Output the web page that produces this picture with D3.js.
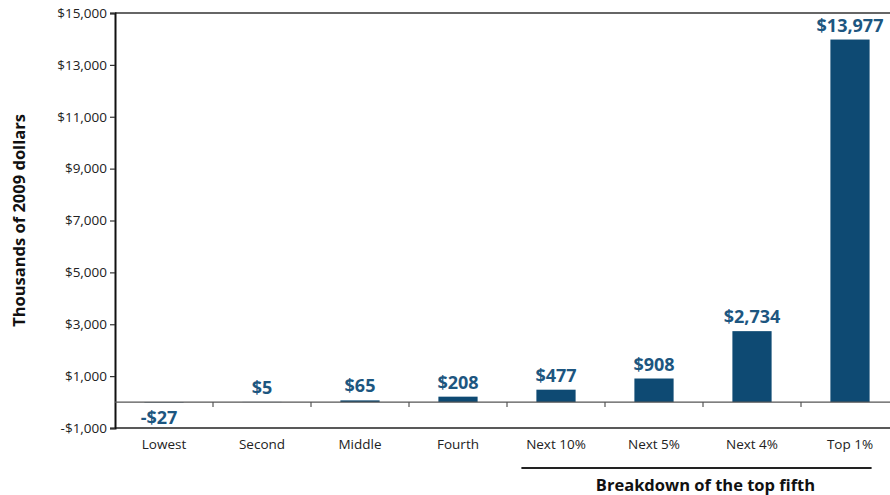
<!DOCTYPE html>
<html>
<head>
<meta charset="utf-8">
<script src="https://cdn.jsdelivr.net/npm/d3@7"></script>
<style>
  html, body { margin: 0; padding: 0; background: #fff; }
  svg { display: block; font-family: "Open Sans", "Noto Sans", sans-serif; }
</style>
</head>
<body>
<svg id="chart" width="890" height="495"></svg>
<script>
// Average after-tax income change by income group (thousands of 2009 dollars)
const categories = ["Lowest", "Second", "Middle", "Fourth", "Next 10%", "Next 5%", "Next 4%", "Top 1%"];
const values = [-27, 5, 65, 208, 477, 908, 2734, 13977];
const valueLabels = ["-$27", "$5", "$65", "$208", "$477", "$908", "$2,734", "$13,977"];
const yTicks = [-1000, 1000, 3000, 5000, 7000, 9000, 11000, 13000, 15000];
const yTitle = "Thousands of 2009 dollars";
const groupTitle = "Breakdown of the top fifth";
const groupMembers = ["Next 10%", "Next 5%", "Next 4%", "Top 1%"];

const svg = d3.select("#chart");
const plotLeft = 115, plotRight = 899, plotTop = 13, plotBottom = 428;
const barColor = "#0e4a73";
const labelColor = "#1d5680";

const x = d3.scaleBand().domain(categories).range([plotLeft, plotRight]).paddingInner(0.6).paddingOuter(0.3);
const xBands = d3.scaleBand().domain(categories).range([plotLeft, plotRight]);
const y = d3.scaleLinear().domain([-1000, 15000]).range([plotBottom, plotTop]);

// frame lines: top and bottom
svg.append("line").attr("x1", plotLeft).attr("x2", 890).attr("y1", y(15000)).attr("y2", y(15000))
  .attr("stroke", "#333").attr("stroke-width", 1.6);
svg.append("line").attr("x1", plotLeft).attr("x2", 890).attr("y1", y(-1000)).attr("y2", y(-1000))
  .attr("stroke", "#222").attr("stroke-width", 1.6);

// y axis
const yAxis = d3.axisLeft(y).tickValues(yTicks).tickSize(5).tickPadding(3)
  .tickFormat(d => (d < 0 ? "-$" : "$") + d3.format(",")(Math.abs(d)));
const gy = svg.append("g").attr("transform", `translate(${plotLeft},0)`).call(yAxis);
gy.select(".domain").attr("stroke", "#111").attr("stroke-width", 2);
gy.selectAll(".tick line").attr("stroke", "#333").attr("stroke-width", 1.2);
gy.selectAll(".tick text").attr("font-size", 13.5).attr("fill", "#222")
  .attr("font-family", "'Open Sans', 'Noto Sans', sans-serif");

// bars
svg.append("g").selectAll("rect").data(values).join("rect")
  .attr("x", (d, i) => x(categories[i]))
  .attr("width", x.bandwidth())
  .attr("y", d => y(Math.max(0, d)))
  .attr("height", d => Math.abs(y(d) - y(0)))
  .attr("fill", d => d < 0 ? "#7f98ad" : barColor);

// zero baseline with band dividers
svg.append("line").attr("x1", plotLeft).attr("x2", 890).attr("y1", y(0)).attr("y2", y(0))
  .attr("stroke", "#555").attr("stroke-width", 1.2);
svg.append("g").selectAll("line").data(categories.slice(1)).join("line")
  .attr("x1", d => xBands(d)).attr("x2", d => xBands(d))
  .attr("y1", y(0)).attr("y2", y(0) + 5)
  .attr("stroke", "#555").attr("stroke-width", 1.2);

// value labels
svg.append("g").selectAll("text").data(values).join("text")
  .attr("x", (d, i) => x(categories[i]) + x.bandwidth() / 2 - (d < 0 ? 5 : 0))
  .attr("y", d => d < 0 ? y(0) + 22 : y(d) - 8)
  .attr("text-anchor", "middle")
  .attr("font-size", 18).attr("font-weight", "bold").attr("fill", labelColor)
  .text((d, i) => valueLabels[i]);

// category labels
svg.append("g").selectAll("text").data(categories).join("text")
  .attr("x", d => xBands(d) + xBands.bandwidth() / 2)
  .attr("y", 449)
  .attr("text-anchor", "middle")
  .attr("font-size", 13.5).attr("fill", "#222")
  .text(d => d);

// bracket for the top-fifth breakdown
const gx0 = x(groupMembers[0]) - 15;
const gx1 = x(groupMembers[groupMembers.length - 1]) + x.bandwidth() + 2;
svg.append("line").attr("x1", gx0).attr("x2", gx1).attr("y1", 468).attr("y2", 468)
  .attr("stroke", "#222").attr("stroke-width", 2);
svg.append("text").attr("x", (gx0 + gx1) / 2 + 9).attr("y", 491)
  .attr("text-anchor", "middle").attr("font-size", 16.5).attr("font-weight", "bold").attr("fill", "#111")
  .text(groupTitle);

// y axis title
svg.append("text").attr("transform", `translate(25,${(plotTop + plotBottom) / 2}) rotate(-90)`)
  .attr("text-anchor", "middle").attr("font-size", 16.5).attr("font-weight", "bold").attr("fill", "#111")
  .text(yTitle);
</script>
</body>
</html>
